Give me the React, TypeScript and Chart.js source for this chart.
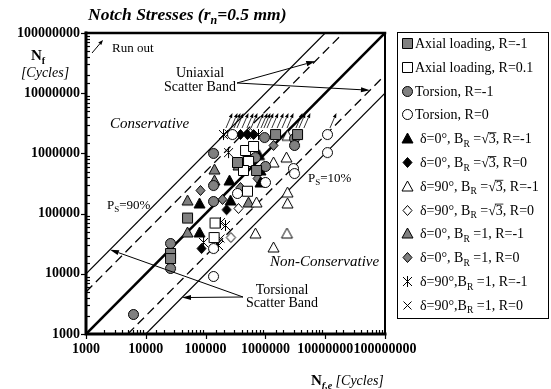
import React, { useEffect, useRef } from 'react';
import { Chart, registerables } from 'chart.js';

Chart.register(...registerables);

const W = 551;
const H = 389;
const SERIF = '"Liberation Serif", "Times New Roman", serif';
const GREY = '#808080';

// Axis range (cycles, log scale on both axes)
const AXIS_MIN = 1000;
const AXIS_MAX = 100000000;

// Scatter bands: life ratio Nf / Nf,e of the band edges
const torsionalBand = [10, 0.1];
const uniaxialBand = [5, 0.2];

// Experimental vs estimated lives [Nf,e, Nf]
const axialRm1: number[][] = [
  [48900, 86000], [25400, 22200], [25400, 18300], [335000, 720000],
  [697000, 530000], [1450000, 2100000], [3380000, 2100000],
];
const axialR01: number[][] = [
  [456000, 1140000], [621000, 1330000], [512000, 748000], [422000, 530000],
  [492000, 240000], [141000, 71000], [136000, 40800],
];
const torsionRm1: number[][] = [
  [133000, 1020000], [133000, 298000], [133000, 162000], [25400, 32500],
  [25400, 12500], [6100, 2150], [948000, 1870000], [3010000, 1800000],
  [3010000, 1380000], [670000, 871000], [984000, 618000],
];
const torsionR0: number[][] = [
  [276000, 2100000], [10700000, 2100000], [10700000, 1050000], [2890000, 572000],
  [3010000, 472000], [984000, 335000], [335000, 220000], [133000, 26800],
  [133000, 9200],
];
const d0Sq3Rm1: number[][] = [
  [246000, 361000], [77600, 150000], [256000, 168000], [77600, 49500],
  [770000, 950000], [812000, 530000], [812000, 335000],
];
const d0Sq3R0: number[][] = [
  [376000, 2100000], [492000, 2100000], [621000, 2100000], [492000, 905000],
  [220000, 118000], [83800, 26800],
];
const d90Sq3Rm1: number[][] = [
  [2300000, 2000000], [1340000, 720000], [2210000, 871000], [697000, 156000],
  [2300000, 228000], [2300000, 150000], [670000, 47600], [2250000, 47600],
  [1340000, 27900],
];
const d90Sq3R0: number[][] = [
  [552000, 2180000], [348000, 124000], [260000, 40800],
];
const d0B1Rm1: number[][] = [
  [138000, 550000], [138000, 361000], [48900, 168000], [48900, 49500],
  [348000, 642000], [512000, 156000],
];
const d0B1R0: number[][] = [
  [80600, 247000], [188000, 175000], [1340000, 1380000], [724000, 390000],
  [376000, 277000],
];
const d90B1Rm1: number[][] = [
  [195000, 2100000], [237000, 1050000], [90500, 33800], [174000, 72500],
  [211000, 64700], [161000, 30100], [752000, 2100000],
];
const d90B1R0: number[][] = [
  [174000, 39300], [237000, 2180000],
];

// Run-outs (tests stopped without failure)
const runOutX = [
  195000, 237000, 266000, 298000, 362000, 438000, 512000, 646000, 752000,
  842000, 948000, 1140000, 1400000, 1690000, 2050000, 2890000, 3250000,
  3920000, 10700000,
];
const runOutY = 2100000;

type Shape = 'square' | 'circle' | 'triangle' | 'diamond' | 'star' | 'cross';

interface SeriesDef {
  label: string;
  data: number[][];
  shape: Shape;
  fill: string;
}

const series: SeriesDef[] = [
  { label: 'Axial loading, R=-1', data: axialRm1, shape: 'square', fill: GREY },
  { label: 'Axial loading, R=0.1', data: axialR01, shape: 'square', fill: '#fff' },
  { label: 'Torsion, R=-1', data: torsionRm1, shape: 'circle', fill: GREY },
  { label: 'Torsion, R=0', data: torsionR0, shape: 'circle', fill: '#fff' },
  { label: 'δ=0°, B_R =√3, R=-1', data: d0Sq3Rm1, shape: 'triangle', fill: '#000' },
  { label: 'δ=0°, B_R =√3, R=0', data: d0Sq3R0, shape: 'diamond', fill: '#000' },
  { label: 'δ=90°, B_R =√3, R=-1', data: d90Sq3Rm1, shape: 'triangle', fill: '#fff' },
  { label: 'δ=90°, B_R =√3, R=0', data: d90Sq3R0, shape: 'diamond', fill: '#fff' },
  { label: 'δ=0°, B_R =1, R=-1', data: d0B1Rm1, shape: 'triangle', fill: GREY },
  { label: 'δ=0°, B_R =1, R=0', data: d0B1R0, shape: 'diamond', fill: GREY },
  { label: 'δ=90°,B_R =1, R=-1', data: d90B1Rm1, shape: 'star', fill: '#000' },
  { label: 'δ=90°,B_R =1, R=0', data: d90B1R0, shape: 'cross', fill: '#000' },
];

function makeMarker(shape: Shape, fill: string): HTMLCanvasElement {
  const c = document.createElement('canvas');
  c.width = 16;
  c.height = 16;
  const g = c.getContext('2d')!;
  g.translate(8, 8);
  g.lineWidth = 1;
  g.strokeStyle = '#000';
  g.fillStyle = fill;
  g.beginPath();
  switch (shape) {
    case 'square':
      g.rect(-4.5, -4.5, 10, 10);
      g.fill();
      g.stroke();
      break;
    case 'circle':
      g.arc(0.5, 0.5, 5, 0, Math.PI * 2);
      g.fill();
      g.stroke();
      break;
    case 'triangle':
      g.moveTo(0.5, -5);
      g.lineTo(6, 5);
      g.lineTo(-5, 5);
      g.closePath();
      g.fill();
      g.stroke();
      break;
    case 'diamond':
      g.moveTo(0.5, -4.5);
      g.lineTo(5, 0.5);
      g.lineTo(0.5, 5.5);
      g.lineTo(-4, 0.5);
      g.closePath();
      g.fill();
      g.stroke();
      break;
    case 'star':
      g.moveTo(-4, -4); g.lineTo(5, 5);
      g.moveTo(5, -4); g.lineTo(-4, 5);
      g.moveTo(0.5, -5); g.lineTo(0.5, 6);
      g.stroke();
      break;
    case 'cross':
      g.moveTo(-3.5, -3.5); g.lineTo(4.5, 4.5);
      g.moveTo(4.5, -3.5); g.lineTo(-3.5, 4.5);
      g.stroke();
      break;
  }
  return c;
}

function bandLine(k: number): { x: number; y: number }[] {
  if (k >= 1) {
    return [{ x: AXIS_MIN, y: AXIS_MIN * k }, { x: AXIS_MAX / k, y: AXIS_MAX }];
  }
  return [{ x: AXIS_MIN / k, y: AXIS_MIN }, { x: AXIS_MAX, y: AXIS_MAX * k }];
}

type Seg = { t: string; font: string; dy?: number; over?: boolean };

function f(style: string, size: number): string {
  return `${style} ${size}px ${SERIF}`;
}

function drawSegs(ctx: CanvasRenderingContext2D, segs: Seg[], x: number, y: number, align: 'left' | 'center' = 'left') {
  ctx.textAlign = 'left';
  ctx.textBaseline = 'alphabetic';
  let total = 0;
  for (const s of segs) {
    ctx.font = s.font;
    total += ctx.measureText(s.t).width;
  }
  let cx = align === 'center' ? x - total / 2 : x;
  for (const s of segs) {
    ctx.font = s.font;
    const w = ctx.measureText(s.t).width;
    ctx.fillText(s.t, cx, y + (s.dy || 0));
    if (s.over) {
      ctx.beginPath();
      ctx.lineWidth = 0.8;
      ctx.moveTo(cx - 1, y - 10.5);
      ctx.lineTo(cx + w + 0.5, y - 10.5);
      ctx.stroke();
    }
    cx += w;
  }
}

function legendSegs(label: string): Seg[] {
  const base = f('normal', 14);
  const out: Seg[] = [];
  for (const part of label.split(/(_R|√3)/)) {
    if (!part) continue;
    if (part === '_R') out.push({ t: 'R', font: f('normal', 9.5), dy: 3.5 });
    else if (part === '√3') {
      out.push({ t: '√', font: base });
      out.push({ t: '3', font: base, over: true });
    } else out.push({ t: part, font: base });
  }
  return out;
}

function arrow(ctx: CanvasRenderingContext2D, x1: number, y1: number, x2: number, y2: number, len = 8, half = 2.6, lw = 1) {
  const ang = Math.atan2(y2 - y1, x2 - x1);
  const bx = x2 - len * Math.cos(ang);
  const by = y2 - len * Math.sin(ang);
  ctx.lineWidth = lw;
  ctx.beginPath();
  ctx.moveTo(x1, y1);
  ctx.lineTo(bx, by);
  ctx.stroke();
  ctx.beginPath();
  ctx.moveTo(x2, y2);
  ctx.lineTo(bx + half * Math.sin(ang), by - half * Math.cos(ang));
  ctx.lineTo(bx - half * Math.sin(ang), by + half * Math.cos(ang));
  ctx.closePath();
  ctx.fill();
}

const isDecade = (v: number) => Math.abs(Math.log10(v) - Math.round(Math.log10(v))) < 1e-6;

export default function App() {
  const ref = useRef<HTMLCanvasElement>(null);

  useEffect(() => {
    const canvas = ref.current;
    if (!canvas) return;
    const markers = series.map((s) => makeMarker(s.shape, s.fill));

    const lineSet = (k: number, width: number, dash: number[]) => ({
      type: 'line' as const,
      label: '',
      data: bandLine(k),
      borderColor: '#000',
      borderWidth: width,
      borderDash: dash,
      pointRadius: 0,
      showLine: true,
      fill: false,
      order: 100,
    });

    const decor = {
      id: 'decor',
      afterDatasetsDraw(chart: any) {
        const { ctx, chartArea: a } = chart;
        const xs = chart.scales.x;
        const ys = chart.scales.y;
        ctx.save();
        ctx.fillStyle = '#000';
        ctx.strokeStyle = '#000';

        // run-out arrows
        for (const rx of runOutX) {
          const px = xs.getPixelForValue(rx);
          const py = ys.getPixelForValue(runOutY);
          arrow(ctx, px + 3, py - 6, px + 9.5, py - 21, 5, 1.8, 0.8);
        }

        // plot frame
        ctx.lineCap = 'square';
        ctx.lineWidth = 3;
        ctx.beginPath();
        ctx.moveTo(a.left, a.top);
        ctx.lineTo(a.left, a.bottom);
        ctx.lineTo(a.right, a.bottom);
        ctx.stroke();
        ctx.lineWidth = 2.5;
        ctx.beginPath();
        ctx.moveTo(a.left, a.top);
        ctx.lineTo(a.right, a.top);
        ctx.stroke();
        ctx.lineWidth = 2;
        ctx.beginPath();
        ctx.moveTo(a.right, a.top);
        ctx.lineTo(a.right, a.bottom);
        ctx.stroke();
        ctx.lineCap = 'butt';

        // tick marks: minor inside, decades outside
        ctx.lineWidth = 1.2;
        for (const t of xs.ticks) {
          const px = Math.round(xs.getPixelForValue(t.value)) + 0.5;
          ctx.beginPath();
          if (isDecade(t.value)) {
            ctx.moveTo(px, a.bottom);
            ctx.lineTo(px, a.bottom + 5);
          } else {
            ctx.moveTo(px, a.bottom);
            ctx.lineTo(px, a.bottom - 4);
          }
          ctx.stroke();
        }
        for (const t of ys.ticks) {
          const py = Math.round(ys.getPixelForValue(t.value)) + 0.5;
          ctx.beginPath();
          if (isDecade(t.value)) {
            ctx.moveTo(a.left, py);
            ctx.lineTo(a.left - 5, py);
          } else {
            ctx.moveTo(a.left, py);
            ctx.lineTo(a.left + 4, py);
          }
          ctx.stroke();
        }

        // title
        drawSegs(ctx, [
          { t: 'Notch Stresses (r', font: f('italic bold', 17.5) },
          { t: 'n', font: f('italic bold', 12), dy: 4 },
          { t: '=0.5 mm)', font: f('italic bold', 17.5) },
        ], 88, 20);

        // axis titles
        drawSegs(ctx, [
          { t: 'N', font: f('bold', 15) },
          { t: 'f', font: f('bold', 10), dy: 3.5 },
        ], 31, 60);
        drawSegs(ctx, [{ t: '[Cycles]', font: f('italic', 14) }], 45, 77, 'center');
        drawSegs(ctx, [
          { t: 'N', font: f('bold', 15) },
          { t: 'f,e', font: f('italic bold', 10), dy: 3.5 },
          { t: ' [Cycles]', font: f('italic', 14) },
        ], 311, 385);

        // in-plot annotations
        drawSegs(ctx, [{ t: 'Run out', font: f('normal', 13) }], 112, 52);
        arrow(ctx, 92, 53, 103, 40, 5, 2, 1);
        drawSegs(ctx, [{ t: 'Conservative', font: f('italic', 15) }], 110, 128);
        drawSegs(ctx, [{ t: 'Non-Conservative', font: f('italic', 15) }], 270, 266);
        drawSegs(ctx, [{ t: 'Uniaxial', font: f('normal', 14) }], 200, 77, 'center');
        drawSegs(ctx, [{ t: 'Scatter Band', font: f('normal', 14) }], 200, 91, 'center');
        drawSegs(ctx, [{ t: 'Torsional', font: f('normal', 14) }], 282, 294, 'center');
        drawSegs(ctx, [{ t: 'Scatter Band', font: f('normal', 14) }], 282, 307, 'center');
        drawSegs(ctx, [
          { t: 'P', font: f('normal', 13) },
          { t: 'S', font: f('normal', 9), dy: 3 },
          { t: '=90%', font: f('normal', 13) },
        ], 107, 209);
        drawSegs(ctx, [
          { t: 'P', font: f('normal', 13) },
          { t: 'S', font: f('normal', 9), dy: 3 },
          { t: '=10%', font: f('normal', 13) },
        ], 308, 182);

        // arrows to the band edges
        const onBand = (nx: number, k: number) => [xs.getPixelForValue(nx), ys.getPixelForValue(nx * k)];
        const [u1x, u1y] = onBand(6800000, uniaxialBand[0]);
        const [u2x, u2y] = onBand(56000000, uniaxialBand[1]);
        arrow(ctx, 237, 83, u1x, u1y, 9, 2.6, 1);
        arrow(ctx, 237, 83, u2x, u2y, 9, 2.6, 1);
        const [t1x, t1y] = onBand(2520, torsionalBand[0]);
        const [t2x, t2y] = onBand(40300, torsionalBand[1]);
        arrow(ctx, 243, 297, t1x, t1y, 9, 2.6, 1);
        arrow(ctx, 243, 297, t2x, t2y, 9, 2.6, 1);

        // legend
        const lx = 397.5, ly = 32.5, lw = 151, lh = 286;
        ctx.fillStyle = '#fff';
        ctx.fillRect(lx, ly, lw, lh);
        ctx.fillStyle = '#000';
        ctx.lineWidth = 1;
        ctx.strokeRect(lx, ly, lw, lh);
        const rowGap = 23.8;
        series.forEach((s, i) => {
          const cy = 43 + i * rowGap;
          ctx.drawImage(markers[i], 407 - 8, Math.round(cy) - 8);
          const tx = i < 4 ? 415 : 420;
          drawSegs(ctx, legendSegs(s.label), tx, cy + 5);
        });
        ctx.restore();
      },
    };

    const chart = new Chart(canvas, {
      type: 'scatter',
      data: {
        datasets: [
          ...series.map((s, i) => ({
            label: s.label.replace('_R', 'R'),
            data: s.data.map(([x, y]) => ({ x, y })),
            pointStyle: markers[i] as any,
            pointRadius: 6,
            showLine: false,
            order: i,
          })),
          lineSet(1, 2.6, []),
          lineSet(torsionalBand[0], 1.2, []),
          lineSet(torsionalBand[1], 1.2, []),
          lineSet(uniaxialBand[0], 1.3, [9, 5]),
          lineSet(uniaxialBand[1], 1.3, [9, 5]),
        ] as any,
      },
      options: {
        responsive: false,
        animation: false,
        devicePixelRatio: 1,
        layout: { padding: { left: 0, top: 33, right: 166, bottom: 0 } },
        plugins: {
          legend: { display: false },
          tooltip: { enabled: false },
          title: { display: false },
        },
        scales: {
          x: {
            type: 'logarithmic',
            min: AXIS_MIN,
            max: AXIS_MAX,
            grid: { display: false, drawTicks: false },
            border: { display: false },
            afterFit: (s: any) => { s.height = 55; },
            ticks: {
              autoSkip: false,
              maxRotation: 0,
              minRotation: 0,
              padding: 7,
              color: '#000',
              font: { family: SERIF, size: 14, weight: 'bold' },
              callback: (v: any) => (isDecade(Number(v)) ? String(Math.round(Number(v))) : ''),
            },
          },
          y: {
            type: 'logarithmic',
            min: AXIS_MIN,
            max: AXIS_MAX,
            grid: { display: false, drawTicks: false },
            border: { display: false },
            afterFit: (s: any) => { s.width = 86; },
            ticks: {
              autoSkip: false,
              padding: 6,
              color: '#000',
              font: { family: SERIF, size: 14, weight: 'bold' },
              callback: (v: any) => (isDecade(Number(v)) ? String(Math.round(Number(v))) : ''),
            },
          },
        },
      } as any,
      plugins: [decor],
    });
    return () => chart.destroy();
  }, []);

  return (
    <div style={{ position: 'fixed', left: 0, top: 0, width: W, height: H, background: '#fff' }}>
      <canvas ref={ref} width={W} height={H} style={{ width: W, height: H, display: 'block' }} />
    </div>
  );
}
